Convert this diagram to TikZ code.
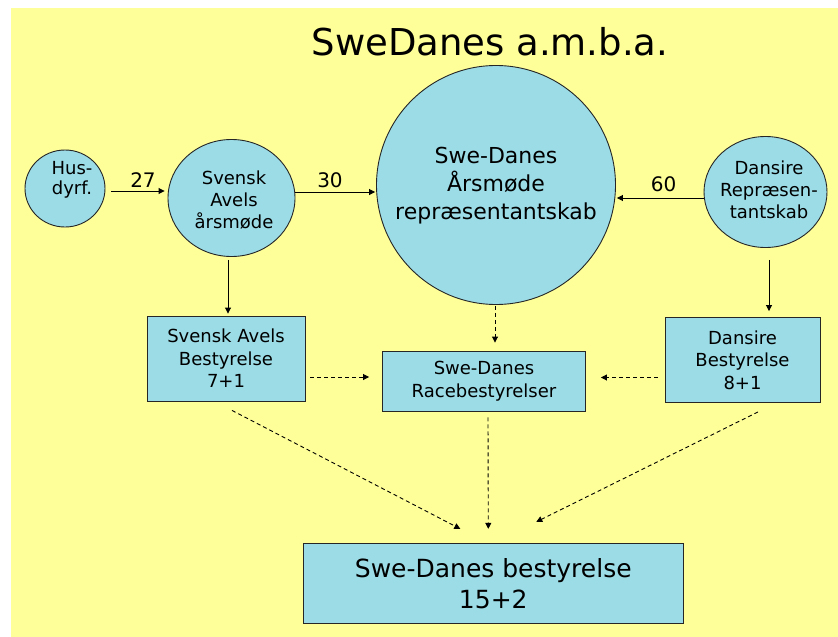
\documentclass[tikz,border=0pt]{standalone}
\usepackage{fontspec}
\setmainfont{DejaVu Sans}
\usetikzlibrary{arrows.meta,shapes.geometric,calc}
\definecolor{bgyellow}{RGB}{255,255,153}
\definecolor{nodeblue}{RGB}{155,220,230}
\tikzset{
  circ/.style={ellipse, draw=black!85, fill=nodeblue, line width=0.9pt, inner sep=0pt},
  bx/.style={rectangle, draw=black!85, fill=nodeblue, line width=0.9pt, inner sep=0pt, align=center, font=\fontsize{18}{22.5}\selectfont},
  txt/.style={inner sep=0pt, align=center, font=\fontsize{18}{22}\selectfont},
  arr/.style={-{Triangle[length=6pt,width=6pt]}, line width=0.9pt, black},
  darr/.style={arr, dash pattern=on 4pt off 3pt},
  numlab/.style={inner sep=0pt, font=\fontsize{20}{24}\selectfont}
}
\begin{document}
\begin{tikzpicture}[x=1pt,y=-1pt]
\useasboundingbox (0,0) rectangle (838,637);
\fill[bgyellow] (11,8) rectangle (838,637);

\node[txt, anchor=base, font=\fontsize{37}{44}\selectfont] (title) at (490,55) {SweDanes a.m.b.a.};

% circles
\node[circ, minimum width=80pt, minimum height=77pt] (hus) at (65,188.5) {};
\node[txt, font=\fontsize{18}{20}\selectfont] (hustxt) at (72,180) {Hus-\\dyrf.};
\node[circ, minimum width=127pt, minimum height=117pt] (sam) at (231.5,198) {};
\node[txt] (samtxt) at (234,200) {Svensk\\Avels\\årsmøde};
\node[circ, minimum width=239pt, minimum height=239pt] (big) at (496,185) {};
\node[txt, font=\fontsize{22}{28}\selectfont] (bigtxt) at (496,185.5) {Swe-Danes\\Årsmøde\\repræsentantskab};
\node[circ, minimum width=123pt, minimum height=111pt] (dan) at (765.5,192) {};
\node[txt] (dantxt) at (769,190) {Dansire\\Repræsen-\\tantskab};

% boxes
\node[bx, minimum width=158pt, minimum height=85pt] (sbox) at (226,358.5) {Svensk Avels\\Bestyrelse\\7+1};
\node[bx, minimum width=203pt, minimum height=60pt] (race) at (484,381) {Swe-Danes\\Racebestyrelser};
\node[bx, minimum width=155pt, minimum height=85pt] (dbox) at (742.5,360) {Dansire\\Bestyrelse\\8+1};
\node[bx, minimum width=380pt, minimum height=80pt, font=\fontsize{25}{31}\selectfont] (bottom) at (493.3,583.3) {Swe-Danes bestyrelse\\15+2};

% solid arrows
\draw[arr, shorten <=6pt, shorten >=3pt] ([yshift=-2.5pt]hus.east) -- ([yshift=-2.5pt]hus.east -| sam.west);
\draw[arr, shorten >=1pt] ([yshift=6pt]sam.east) -- ([yshift=6pt]sam.east -| big.west);
\draw[arr, shorten >=1pt] ([yshift=-6pt]dan.west) -- ([yshift=-6pt]dan.west -| big.east);
\draw[arr, shorten <=3pt, shorten >=2pt] ($(sam.south)+(-3.5,0)$) -- ($(sbox.north)+(2,0)$);
\draw[arr, shorten <=12pt, shorten >=6pt] ($(dan.south)+(3.5,0)$) -- ($(dbox.north)+(26.5,0)$);

% labels
\node[numlab] (n27) at (143,180) {27};
\node[numlab] (n30) at (330,180) {30};
\node[numlab] (n60) at (663.5,184) {60};

% dashed arrows
\draw[darr, shorten <=1pt, shorten >=8pt] ($(big.south)+(-1,0)$) -- ($(race.north)+(11,0)$);
\draw[darr, shorten <=5pt, shorten >=13pt] ([yshift=-18.5pt]sbox.east) -- ([yshift=-18.5pt]sbox.east -| race.west);
\draw[darr, shorten <=7pt, shorten >=15pt] ([yshift=-17.5pt]dbox.west) -- ([yshift=-17.5pt]dbox.west -| race.east);
\draw[darr] ($(sbox.south)+(6,9)$) -- ($(bottom.north)+(-33,-14)$);
\draw[darr] ($(race.south)+(4,6)$) -- ($(bottom.north)+(-5,-14)$);
\draw[darr] ($(dbox.south)+(15.5,9)$) -- ($(bottom.north)+(43,-21)$);
\end{tikzpicture}
\end{document}
